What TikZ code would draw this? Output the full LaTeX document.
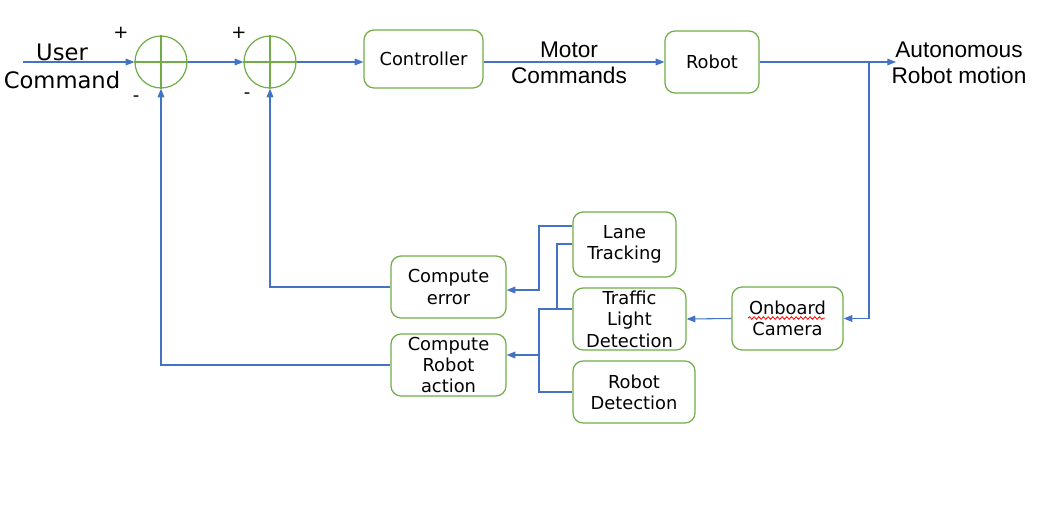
\documentclass[tikz,border=0pt]{standalone}
\usepackage{fontspec}
\setmainfont{DejaVu Sans}
\newfontfamily\libfont{Liberation Sans}
\usetikzlibrary{arrows.meta,decorations.pathmorphing}
\definecolor{lblue}{HTML}{4472C4}
\definecolor{lgreen}{HTML}{70AD47}
\begin{document}
\begin{tikzpicture}[x=0.75pt,y=-0.75pt,
  box/.style={draw=lgreen,line width=0.9pt,rounded corners=7.5pt,align=center,
    font=\fontsize{13.4}{16}\selectfont,inner sep=1pt},
  sumj/.style={draw=lgreen,line width=0.9pt,circle,minimum size=39pt,inner sep=0pt},
  arr/.style={draw=lblue,line width=0.8pt,-{Triangle[length=6.5pt,width=5pt]}},
  ln/.style={draw=lblue,line width=0.8pt},
  big/.style={align=center,font=\fontsize{17}{21}\selectfont,inner sep=0pt},
  bigl/.style={align=center,font=\libfont\fontsize{17}{19.5}\selectfont,inner sep=0pt},
  sgn/.style={font=\fontsize{13.5}{15}\selectfont,inner sep=0pt}]
\useasboundingbox (0,0) rectangle (1047,511);
\fill[white] (0,0) rectangle (1047,511);

% summing junctions
\node[sumj] (s1) at (161,62) {};
\node[sumj] (s2) at (270,62) {};
\draw[lgreen,line width=0.9pt] (s1.north)--(s1.south) (s1.west)--(s1.east);
\draw[lgreen,line width=0.9pt] (s2.north)--(s2.south) (s2.west)--(s2.east);
\node[sgn] (p1) at (121,33) {+};
\node[sgn] (m1) at (136,99) {-};
\node[sgn] (p2) at (239,33) {+};
\node[sgn] (m2) at (247,96) {-};

% boxes
\node[box,minimum width=89.25pt,minimum height=43.5pt] (ctrl) at (423.5,59) {Controller};
\node[box,minimum width=70.5pt,minimum height=46.5pt] (robot) at (712,62) {Robot};
\node[box,minimum width=83.25pt,minimum height=47.25pt] (cam) at (787.5,318.5) {Onboard\\Camera};
\node[box,minimum width=84.75pt,minimum height=46.5pt] (tl) at (629.5,319) {Traffic\\Light\\Detection};
\node[box,minimum width=77.25pt,minimum height=48.75pt] (lane) at (624.5,244.5) {Lane\\Tracking};
\node[box,minimum width=91.5pt,minimum height=46.5pt] (rdet) at (634,392) {Robot\\Detection};
\node[box,minimum width=86.25pt,minimum height=46.5pt] (err) at (448.5,287) {Compute\\error};
\node[box,minimum width=86.25pt,minimum height=46.5pt] (act) at (448.5,365) {Compute\\Robot\\action};

% labels
\node[big] (ucmd) at (62,66) {User\\Command};
\node[bigl] (mcmd) at (569,63) {Motor\\Commands};
\node[bigl] (amot) at (959,63) {Autonomous\\Robot motion};

% spell-check squiggle
\coordinate (sqa) at (748,318);
\coordinate (sqb) at (825,318);
\draw[red,line width=0.6pt,decorate,decoration={snake,amplitude=1pt,segment length=3.5pt}] (sqa) -- (sqb);

% coordinates
\coordinate (uin) at (23,62);
\coordinate (out) at (896,62);
\coordinate (br) at (869,62);
\coordinate (ja) at (539,226);
\coordinate (jerr) at (539,290);
\coordinate (jb) at (557,244);
\coordinate (jc) at (557,309);
\coordinate (jd) at (539,309);
\coordinate (je) at (539,355);
\coordinate (jf) at (539,392);

% main forward path
\draw[arr] (uin) -- (s1.west);
\draw[arr] (s1.east) -- (s2.west);
\draw[arr] (s2.east) -- (s2.east -| ctrl.west);
\draw[arr] (ctrl.east |- br) -- (robot.west |- br);
\draw[arr] (robot.east |- br) -- (out);
\draw[arr] (br) |- (cam.east);
\draw[arr] (cam.west) -- (tl.east);

% perception to computation
\draw[arr] (lane.west |- ja) -- (ja) |- (err.east |- jerr);
\draw[ln] (lane.west |- jb) -- (jb) -- (jc);
\draw[ln] (tl.west |- jd) -- (jd) -- (jf) -- (rdet.west |- jf);
\draw[arr] (je) -- (act.east |- je);

% feedback
\draw[arr] (err.west) -| (s2.south);
\draw[arr] (act.west) -| (s1.south);
\end{tikzpicture}
\end{document}
